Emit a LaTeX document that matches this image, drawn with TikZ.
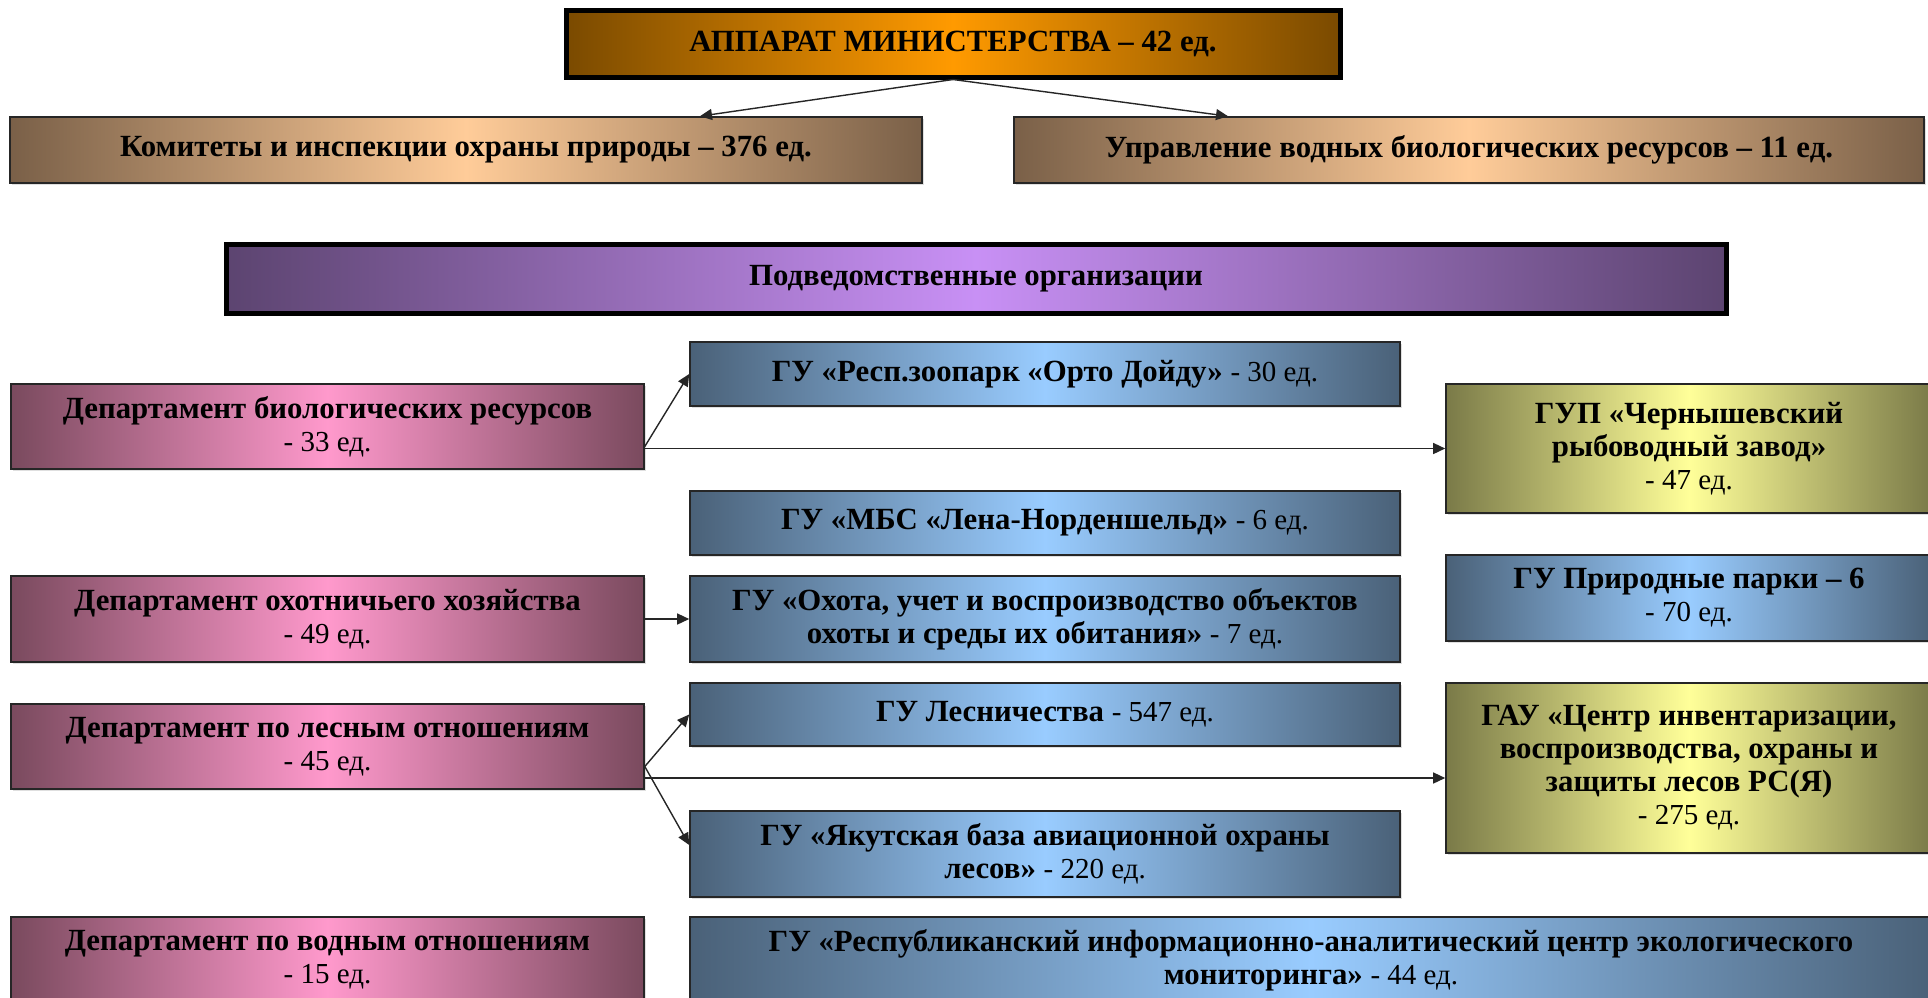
\documentclass[tikz,border=0pt]{standalone}
\usepackage{fontspec}
\setmainfont{Liberation Serif}
\usetikzlibrary{arrows.meta,shadows}
\definecolor{orC}{HTML}{FF9A00}\definecolor{orE}{HTML}{7A4A00}
\definecolor{peC}{HTML}{FFCC99}\definecolor{peE}{HTML}{7A6048}
\definecolor{puC}{HTML}{C890F5}\definecolor{puE}{HTML}{5C4470}
\definecolor{piC}{HTML}{FF99CC}\definecolor{piE}{HTML}{7A4A5E}
\definecolor{blC}{HTML}{99CCFF}\definecolor{blE}{HTML}{4A6178}
\definecolor{yeC}{HTML}{FFFF99}\definecolor{yeE}{HTML}{7A7A48}
\tikzset{
  box/.style={draw=black!85, line width=0.8pt, inner sep=0pt, align=center,
    font=\fontsize{15.4}{16.5}\selectfont\bfseries,
    drop shadow={opacity=0.25, shadow xshift=0.8pt, shadow yshift=-0.8pt}},
  thickbox/.style={box, draw=black, line width=2.5pt},
  grad/.style 2 args={left color=#1, right color=#1, middle color=#2},
  orbox/.style={thickbox, grad={orE}{orC}},
  pebox/.style={box, grad={peE}{peC}},
  pubox/.style={thickbox, grad={puE}{puC}},
  pibox/.style={box, grad={piE}{piC}},
  blbox/.style={box, grad={blE}{blC}},
  yebox/.style={box, grad={yeE}{yeC}},
  arr/.style={draw=black!85, line width=0.7pt, -{Triangle[length=6pt,width=5.5pt]}}
}
\newcommand{\cnt}[1]{{\fontsize{14.5}{16.5}\selectfont\mdseries #1}}
\begin{document}
\begin{tikzpicture}[x=0.5pt,y=-0.5pt]
\useasboundingbox (0,0) rectangle (1928,997);
\clip (0,0) rectangle (1928,997);
\node[orbox, minimum width=387pt, minimum height=33.5pt] (top) at (953,43.5) {АППАРАТ МИНИСТЕРСТВА – 42 ед.};
\node[pebox, minimum width=456pt, minimum height=33pt] (kom) at (466,150) {Комитеты и инспекции охраны природы – 376 ед.};
\node[pebox, minimum width=455pt, minimum height=33pt] (upr) at (1469,150) {Управление водных биологических ресурсов – 11 ед.};
\node[pubox, minimum width=750pt, minimum height=34.5pt] (pod) at (976,278.5) {Подведомственные организации};

\node[pibox, minimum width=316.5pt, minimum height=42.5pt] (d1) at (327.5,426.5) {Департамент биологических ресурсов\\\cnt{- 33 ед.}};
\node[pibox, minimum width=316.5pt, minimum height=43pt] (d2) at (327.5,619) {Департамент охотничьего хозяйства\\\cnt{- 49 ед.}};
\node[pibox, minimum width=316.5pt, minimum height=42.5pt] (d3) at (327.5,746.5) {Департамент по лесным отношениям\\\cnt{- 45 ед.}};
\node[pibox, minimum width=316.5pt, minimum height=43pt] (d4) at (327.5,960) {Департамент по водным отношениям\\\cnt{- 15 ед.}};

\node[blbox, minimum width=355pt, minimum height=32pt] (zoo) at (1045,374) {ГУ «Респ.зоопарк «Орто Дойду» \cnt{- 30 ед.}};
\node[blbox, minimum width=355pt, minimum height=32pt] (mbs) at (1045,523) {ГУ «МБС «Лена-Норденшельд» \cnt{- 6 ед.}};
\node[blbox, minimum width=355pt, minimum height=43pt] (ohota) at (1045,619) {ГУ «Охота, учет и воспроизводство объектов\\охоты и среды их обитания» \cnt{- 7 ед.}};
\node[blbox, minimum width=355pt, minimum height=31.5pt] (les) at (1045,714.5) {ГУ Лесничества \cnt{- 547 ед.}};
\node[blbox, minimum width=355pt, minimum height=43pt] (yak) at (1045,854) {ГУ «Якутская база авиационной охраны\\лесов» \cnt{- 220 ед.}};
\node[blbox, minimum width=621pt, minimum height=43pt] (resp) at (1311,960) {ГУ «Республиканский информационно-аналитический центр экологического\\мониторинга» \cnt{- 44 ед.}};

\node[yebox, minimum width=243pt, minimum height=64.5pt] (gup) at (1689,448.5) {ГУП «Чернышевский\\рыбоводный завод»\\\cnt{- 47 ед.}};
\node[blbox, minimum width=243pt, minimum height=43pt] (park) at (1689,598) {ГУ Природные парки – 6\\\cnt{- 70 ед.}};
\node[yebox, minimum width=243pt, minimum height=85pt] (gau) at (1689,768) {ГАУ «Центр инвентаризации,\\воспроизводства, охраны и\\защиты лесов РС(Я)\\\cnt{- 275 ед.}};

\draw[arr] (top.south) -- ([xshift=117pt]kom.north);
\draw[arr] (top.south) -- ([xshift=-120.5pt]upr.north);

\draw[arr] ([yshift=-10pt]d1.east) -- (zoo.west);
\draw[arr] (gup.west -| d1.east) -- (gup.west);
\draw[arr] (d2.east) -- (ohota.west);
\draw[arr] ([yshift=-10pt]d3.east) -- (les.west);
\draw[arr] ([yshift=-10pt]d3.east) -- ([yshift=4.5pt]yak.west);
\draw[arr] ([yshift=-5pt]gau.west -| d3.east) -- ([yshift=-5pt]gau.west);
\end{tikzpicture}
\end{document}
